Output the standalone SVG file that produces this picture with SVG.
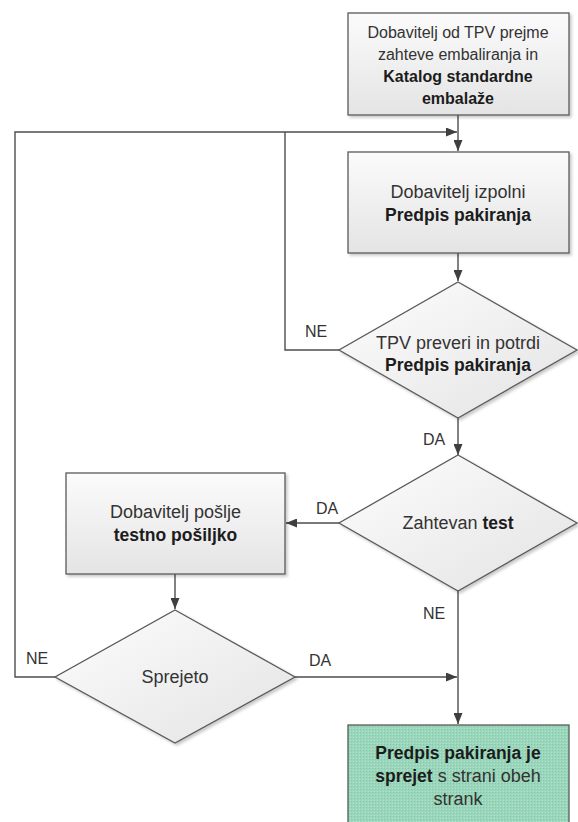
<svg xmlns="http://www.w3.org/2000/svg" width="578" height="822" viewBox="0 0 578 822">
<style>
text{font-family:"Liberation Sans",Arial,sans-serif;fill:#333;text-anchor:middle}
.b{font-weight:bold;fill:#1c1c1c}
.s{font-size:16px}
.m{font-size:18px}
.mb{font-size:17.5px;font-weight:bold;fill:#1c1c1c}
.lbl{font-size:16px;fill:#333}
.box{fill:url(#g);stroke:#5a5a5a;stroke-width:1.3;filter:url(#sh)}
.dia{fill:url(#gd);stroke:#5a5a5a;stroke-width:1.3;filter:url(#sh)}
.con{fill:none;stroke:#4d4d4d;stroke-width:1.4}
</style>
<defs>
<linearGradient id="g" x1="0" y1="0" x2="0" y2="1"><stop offset="0" stop-color="#fbfbfb"/><stop offset="1" stop-color="#e4e4e4"/></linearGradient>
<linearGradient id="gd" x1="0" y1="0" x2="1" y2="1"><stop offset="0" stop-color="#fdfdfd"/><stop offset="1" stop-color="#e3e3e3"/></linearGradient>
<pattern id="hatch" width="3" height="3" patternUnits="userSpaceOnUse"><rect width="3" height="3" fill="#9ad6bb"/><rect width="1" height="1" fill="#82c9a8"/><rect x="2" y="2" width="1" height="1" fill="#b3e1cc"/></pattern>
<filter id="sh" x="-10%" y="-10%" width="125%" height="125%"><feDropShadow dx="2" dy="2" stdDeviation="1.8" flood-color="#000" flood-opacity="0.22"/></filter>
<marker id="a" markerWidth="11" markerHeight="9" refX="11" refY="4.5" orient="auto" markerUnits="userSpaceOnUse"><path d="M0,0 L11,4.5 L0,9 z" fill="#3f3f3f"/></marker>
</defs>

<g id="connectors">
<path class="con" d="M458,115 V151" marker-end="url(#a)"/>
<path class="con" d="M55,677 H15 V132 H457" marker-end="url(#a)"/>
<path class="con" d="M339,350 H285 V132"/>
<path class="con" d="M458,253 V281" marker-end="url(#a)"/>
<path class="con" d="M458,418 V455" marker-end="url(#a)"/>
<path class="con" d="M339,523 H286" marker-end="url(#a)"/>
<path class="con" d="M175,574 V609" marker-end="url(#a)"/>
<path class="con" d="M458,591 V724" marker-end="url(#a)"/>
<path class="con" d="M295,677 H457" marker-end="url(#a)"/>
<text class="lbl" x="316" y="337">NE</text>
<text class="lbl" x="434" y="445">DA</text>
<text class="lbl" x="327" y="514">DA</text>
<text class="lbl" x="434" y="619">NE</text>
<text class="lbl" x="37" y="664">NE</text>
<text class="lbl" x="320" y="666">DA</text>
</g>

<g id="n1">
<rect class="box" x="348" y="13" width="221" height="102"/>
<text class="s" x="458" y="38">Dobavitelj od TPV prejme</text>
<text class="s" x="458" y="60">zahteve embaliranja in</text>
<text class="s b" x="458" y="82">Katalog standardne</text>
<text class="s b" x="458" y="104">embalaže</text>
</g>

<g id="n2">
<rect class="box" x="348" y="152" width="221" height="101"/>
<text class="m" x="458" y="198">Dobavitelj izpolni</text>
<text class="mb" x="458" y="221">Predpis pakiranja</text>
</g>

<g id="n3">
<polygon class="dia" points="458,282 577,350 458,418 339,350"/>
<text class="m" x="458" y="349">TPV preveri in potrdi</text>
<text class="mb" x="458" y="371">Predpis pakiranja</text>
</g>

<g id="n4">
<polygon class="dia" points="458,455 577,523 458,591 339,523"/>
<text class="m" x="458" y="529">Zahtevan <tspan class="mb">test</tspan></text>
</g>

<g id="n5">
<rect class="box" x="66" y="473" width="219" height="101"/>
<text class="m" x="175.5" y="518">Dobavitelj pošlje</text>
<text class="mb" x="175.5" y="541">testno pošiljko</text>
</g>

<g id="n6">
<polygon class="dia" points="175,610 295,677 175,743 55,677"/>
<text class="m" x="175" y="683">Sprejeto</text>
</g>

<g id="n7">
<rect x="348" y="725" width="221" height="110" fill="url(#hatch)" stroke="#5a5a5a" stroke-width="1.3"/>
<text class="mb" x="458" y="759">Predpis pakiranja je</text>
<text class="m" x="458" y="782"><tspan class="mb">sprejet</tspan> s strani obeh</text>
<text class="m" x="458" y="805">strank</text>
</g>
</svg>
